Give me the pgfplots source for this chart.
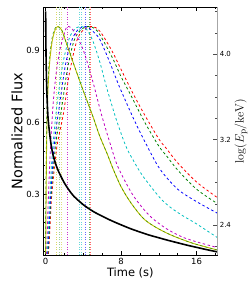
\documentclass[border=0pt]{standalone}
\usepackage[no-math]{fontspec}
\setmainfont{DejaVu Sans}
\usepackage{pgfplots}
\pgfplotsset{compat=1.18}
\definecolor{mred}{rgb}{1,0,0}
\definecolor{mgreen}{rgb}{0,0.5,0}
\definecolor{mblue}{rgb}{0,0,1}
\definecolor{mcyan}{rgb}{0,0.75,0.75}
\definecolor{mmag}{rgb}{0.75,0,0.75}
\definecolor{myel}{rgb}{0.75,0.75,0}
\begin{document}
\begin{tikzpicture}
\useasboundingbox (-43.3bp,-36bp) rectangle (205.7bp,255bp);
\begin{axis}[at={(0,0)}, anchor=south west, scale only axis,
  width=174bp, height=247.7bp,
  xmin=-0.25, xmax=18.2, ymin=0.045, ymax=1.08,
  xtick={0,8,16}, xticklabels={0,8,16},
  minor xtick={2,4,6,10,12,14,18},
  ytick={0.3,0.6,0.9}, yticklabels={0.3,0.6,0.9},
  minor ytick={0.06,0.12,0.18,0.24,0.36,0.42,0.48,0.54,0.66,0.72,0.78,0.84,0.96,1.02},
  xtick pos=both, ytick pos=left, tick align=inside,
  major tick length=4bp, minor tick length=2bp,
  every tick/.style={black, line width=0.5pt},
  axis line style={black, line width=0.6pt},
  /pgf/number format/assume math mode=true,
  ticklabel style={font=\fontsize{8.5}{10}\selectfont},
  xlabel={Time (s)}, ylabel={Normalized Flux},
  xlabel style={font=\fontsize{11.5}{13}\selectfont, yshift=4bp},
  ylabel style={font=\fontsize{14.5}{16}\selectfont, yshift=-3bp},
  clip=true]
% vertical dotted lines (peak times)
\addplot[myel!60!white, dash pattern=on 1bp off 1.5bp, line width=0.6pt] coordinates {(1.17,0.045) (1.17,1.08)};
\addplot[mgreen!40!white, dash pattern=on 1bp off 1.5bp, line width=0.6pt] coordinates {(1.44,0.045) (1.44,1.08)};
\addplot[myel!50!white, dash pattern=on 1bp off 1.5bp, line width=0.6pt] coordinates {(1.62,0.045) (1.62,1.08)};
\addplot[mmag!80!white, dash pattern=on 1bp off 1.5bp, line width=0.5pt] coordinates {(2.29,0.045) (2.29,1.08)};
\addplot[mcyan!60!white, dash pattern=on 1bp off 1.5bp, line width=0.5pt] coordinates {(3.56,0.045) (3.56,1.08)};
\addplot[mcyan!60!white, dash pattern=on 1bp off 1.5bp, line width=0.5pt] coordinates {(3.81,0.045) (3.81,1.08)};
\addplot[mblue!60!white, dash pattern=on 1bp off 1.5bp, line width=0.5pt] coordinates {(4.16,0.045) (4.16,1.08)};
\addplot[mgreen!60!white, dash pattern=on 1bp off 1.5bp, line width=0.5pt] coordinates {(4.62,0.045) (4.62,1.08)};
\addplot[mred!60!white, dash pattern=on 1bp off 1.5bp, line width=0.5pt] coordinates {(4.77,0.045) (4.77,1.08)};
% dashed curves
\addplot[mred, dash pattern=on 2.5bp off 2.5bp, line width=0.8pt, smooth] coordinates {
(0.3,0.05) (0.45,0.15) (0.6,0.27) (0.8,0.36) (1.2,0.5) (1.9,0.64) (2.5,0.8) (3.3,0.94) (4,0.985) (4.9,1.0)
(5.75,0.98) (7,0.9) (8,0.82) (9.26,0.72) (10.5,0.63) (12,0.53) (12.8,0.49) (14,0.43) (16,0.35) (18.2,0.285)};
\addplot[mgreen, dash pattern=on 2.5bp off 2.5bp, line width=0.8pt, smooth] coordinates {
(0.25,0.05) (0.4,0.15) (0.55,0.27) (0.75,0.38) (1.1,0.52) (1.7,0.66) (2.3,0.82) (3.0,0.94) (3.7,0.985) (4.5,1.0)
(5.5,0.98) (7,0.875) (8,0.79) (8.93,0.72) (10.5,0.6) (12,0.5) (12.8,0.46) (14,0.4) (16,0.32) (18.2,0.26)};
\addplot[mblue, dash pattern=on 2.5bp off 2.5bp, line width=0.8pt, smooth] coordinates {
(0.2,0.05) (0.35,0.15) (0.5,0.27) (0.7,0.4) (1.0,0.54) (1.5,0.68) (2.1,0.84) (2.75,0.94) (3.4,0.985) (4.2,1.0)
(5,0.98) (5.75,0.945) (6.8,0.85) (7.8,0.75) (9.26,0.62) (10.5,0.52) (12.1,0.405) (14,0.32) (16,0.268) (18.2,0.22)};
\addplot[mcyan, dash pattern=on 2.5bp off 2.5bp, line width=0.8pt, smooth] coordinates {
(0.15,0.05) (0.3,0.17) (0.45,0.3) (0.65,0.44) (0.95,0.58) (1.35,0.72) (1.9,0.86) (2.5,0.95) (3.0,0.985) (3.6,1.0)
(4.3,0.99) (5,0.94) (5.75,0.85) (6.5,0.74) (7.5,0.61) (8.5,0.5) (9.3,0.44) (10.3,0.375) (12.1,0.285) (13.2,0.245) (14.5,0.21) (16,0.175) (18.2,0.118)};
\addplot[mmag, dash pattern=on 2.5bp off 2.5bp, line width=0.8pt, smooth] coordinates {
(0.1,0.05) (0.2,0.18) (0.35,0.35) (0.55,0.52) (0.8,0.68) (1.1,0.8) (1.5,0.9) (1.9,0.96) (2.3,1.0)
(3,0.98) (4,0.9) (5,0.77) (5.93,0.63) (7,0.49) (7.7,0.41) (9.26,0.295) (11,0.21) (12.8,0.155) (14.5,0.12) (16,0.1) (18.2,0.076)};
% yellow solid and green dashed early pulse
\addplot[myel, line width=0.9pt, smooth] coordinates {
(0.0,0.05) (0.05,0.3) (0.12,0.55) (0.25,0.74) (0.45,0.86) (0.7,0.94) (1.0,0.985) (1.3,1.0) (1.7,0.985) (2.2,0.93)
(3,0.84) (4,0.73) (5,0.625) (5.7,0.545) (6.5,0.47) (7.2,0.4) (8,0.33) (9,0.265) (10.3,0.2) (11.5,0.165) (13.2,0.13) (15.6,0.094) (18.2,0.066)};
\addplot[mgreen!80!myel, dash pattern=on 2.5bp off 2.5bp, line width=0.5pt, smooth] coordinates {
(-0.02,0.05) (0.02,0.3) (0.08,0.55) (0.2,0.74) (0.38,0.86) (0.62,0.94) (0.9,0.985) (1.2,1.0) (1.7,0.985) (2.2,0.93)
(3,0.84) (4,0.73) (5,0.625) (5.7,0.545) (6.5,0.47) (7.2,0.4) (8,0.33) (9,0.265) (10.3,0.2) (11.5,0.165) (13.2,0.13) (15.6,0.094) (18.2,0.066)};
% black flux
\addplot[black, line width=1.6pt, smooth] coordinates {
(0,1.063) (0.02,0.95) (0.05,0.85) (0.1,0.76) (0.15,0.7) (0.25,0.62) (0.4,0.56) (0.6,0.5) (0.8,0.46) (1.2,0.41)
(1.6,0.375) (2,0.345) (2.5,0.315) (3,0.29) (4,0.255) (5,0.228) (6,0.207) (7,0.188) (8,0.171) (9,0.155) (10,0.141)
(11,0.128) (12,0.117) (13,0.106) (14,0.096) (15,0.086) (16,0.077) (17,0.068) (18.2,0.058)};
\end{axis}
\begin{axis}[at={(0,0)}, anchor=south west, scale only axis,
  width=174bp, height=247.7bp,
  xmin=-0.25, xmax=18.2, ymin=2.12, ymax=4.44,
  axis x line=none, axis y line*=right,
  ytick={2.4,3.2,4.0}, yticklabels={2.4,3.2,4.0},
  minor ytick={2.2,2.6,2.8,3.0,3.4,3.6,3.8,4.2,4.4},
  tick align=inside, major tick length=4bp, minor tick length=2bp,
  every tick/.style={black!70, line width=0.5pt},
  y axis line style={gray!70, line width=1.6pt, -},
  /pgf/number format/assume math mode=true,
  ticklabel style={font=\fontsize{7}{8}\selectfont},
  yticklabel style={xshift=-1bp},
  ylabel={$\log(E_{\rm p}/{\rm keV})$},
  ylabel style={font=\fontsize{13}{15}\selectfont, yshift=3bp}]
\addplot[draw=none] coordinates {(0,3)};
\end{axis}
\end{tikzpicture}
\end{document}
